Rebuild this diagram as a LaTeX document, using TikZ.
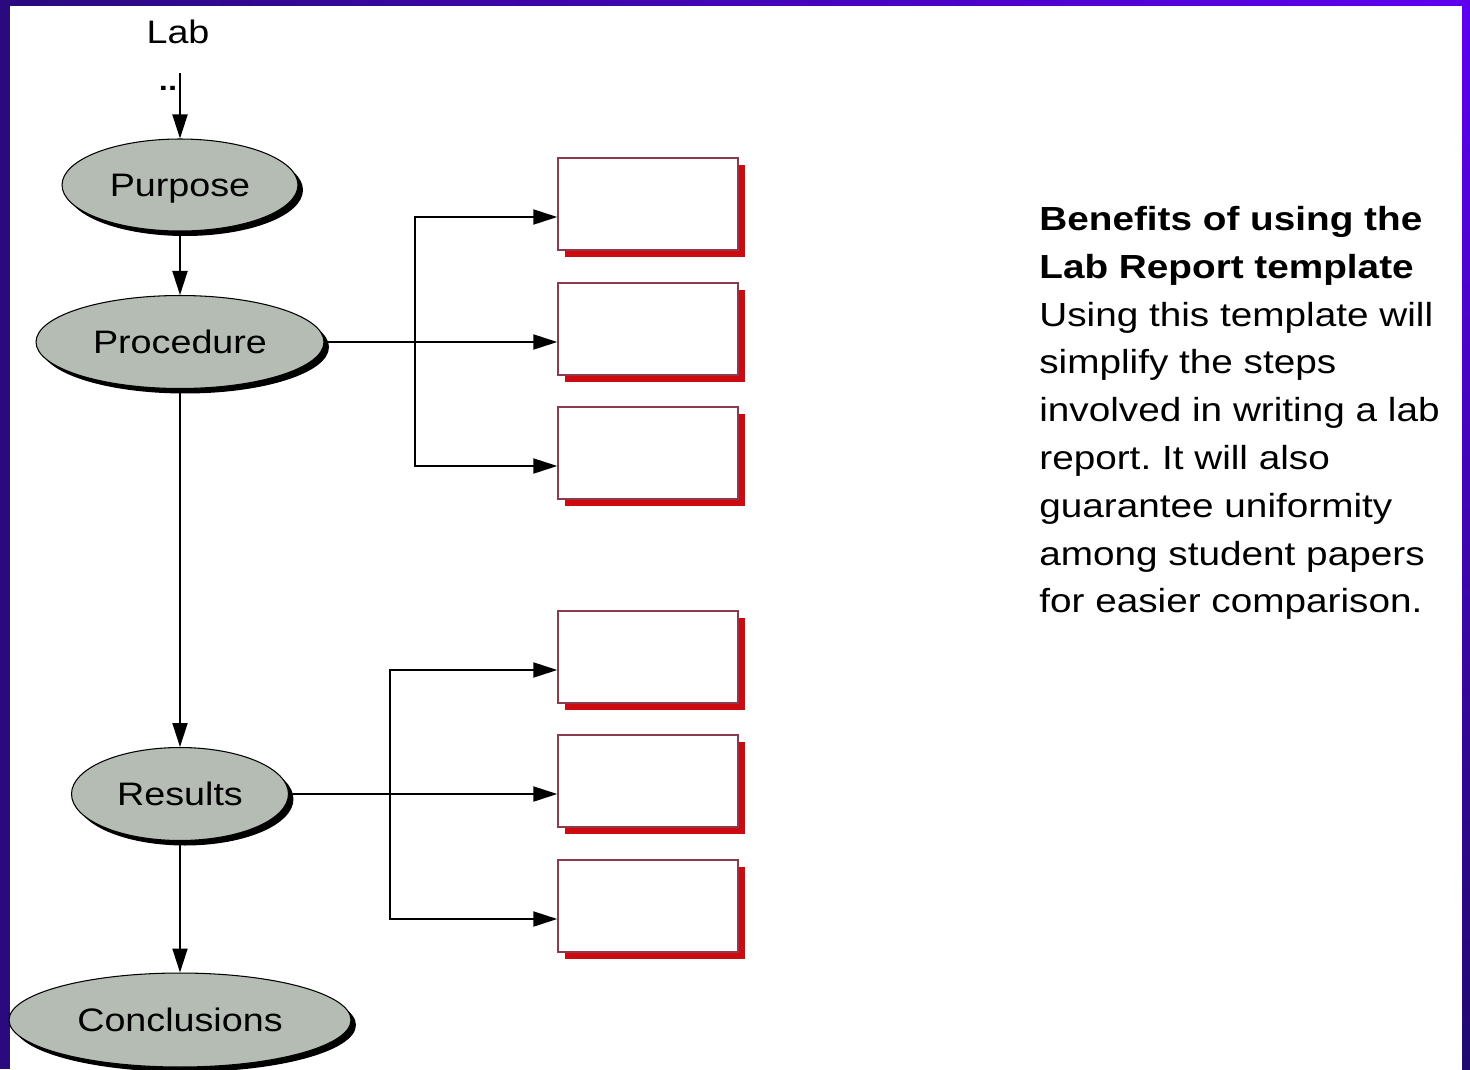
\documentclass[tikz,border=0pt]{standalone}
\usepackage{fontspec}
\setmainfont{Liberation Sans}[FakeStretch=1.16]
\usetikzlibrary{shapes.geometric,shadows,arrows.meta}
\definecolor{frameL}{HTML}{2A0A7E}
\definecolor{frameR}{HTML}{5E00F0}
\definecolor{frameB}{HTML}{200A6E}
\definecolor{stagegray}{HTML}{B4BCB4}
\definecolor{slotline}{HTML}{8C3A4C}
\definecolor{slotred}{HTML}{CC0A10}
\frenchspacing
\begin{document}
\begin{tikzpicture}[x=0.02cm,y=-0.02cm,
        stage/.style={ellipse,draw=black,line width=0.6pt,fill=stagegray,inner sep=0pt,
            text height=13.3pt,text depth=0pt,font=\fontsize{18.5}{22}\selectfont,
            drop shadow={fill=black,opacity=1,shadow xshift=0.1cm,shadow yshift=-0.1cm}},
        slot/.style={rectangle,draw=slotline,line width=0.8pt,fill=white,
            minimum width=3.6cm,minimum height=1.84cm,
            drop shadow={fill=slotred,opacity=1,shadow xshift=0.14cm,shadow yshift=-0.14cm}},
        link/.style={line width=1.1pt,-{Triangle[length=0.48cm,width=0.3cm]}}]
    \useasboundingbox (0,0) rectangle (1470,1069);
    \fill[white] (0,0) rectangle (1470,1069);
    \fill[frameL] (0,0) rectangle (10,1069);
    \shade[left color=frameL,right color=frameR] (0,0) rectangle (1470,5);
    \shade[top color=frameR,bottom color=frameB] (1462,0) rectangle (1470,1069);

    \node[anchor=base,font=\fontsize{18.5}{22}\selectfont] (lab) at (178,43) {Lab};
    \node[anchor=base,font=\fontsize{16}{16}\bfseries,inner sep=0pt] (dots) at (168,90) {..};
    \coordinate (labtail) at (180,73);

    \node[stage,minimum width=4.72cm,minimum height=1.84cm] (purp) at (180,185) {Purpose};
    \node[stage,minimum width=5.76cm,minimum height=1.86cm] (proc) at (180,342) {Procedure};
    \node[stage,minimum width=4.34cm,minimum height=1.86cm] (res) at (180,794) {Results};
    \node[stage,minimum width=6.84cm,minimum height=1.88cm] (conc) at (180,1020) {Conclusions};

    \node[slot] (b1) at (648,204) {};
    \node[slot] (b2) at (648,329) {};
    \node[slot] (b3) at (648,453) {};
    \node[slot] (b4) at (648,657) {};
    \node[slot] (b5) at (648,781) {};
    \node[slot] (b6) at (648,906) {};

    \coordinate (fa) at (415,342);
    \coordinate (fb) at (390,794);

    \draw[link] (labtail) -- (purp);
    \draw[link] (purp) -- (proc);
    \draw[link] (proc) -- (res);
    \draw[link] (res) -- (conc);

    \draw[link] (proc.east) -- (proc.east -| b2.west);
    \draw[link] (fa) |- ([yshift=-0.26cm]b1.west);
    \draw[link] (fa) |- ([yshift=-0.26cm]b3.west);
    \draw[link] (res.east) -- (res.east -| b5.west);
    \draw[link] (fb) |- ([yshift=-0.26cm]b4.west);
    \draw[link] (fb) |- ([yshift=-0.26cm]b6.west);

    \node[anchor=north west,align=left,inner sep=0pt,font=\fontsize{19}{27.2}\selectfont] (note) at (1039,206)
        {\textbf{Benefits of using the}\\
         \textbf{Lab Report template}\\
         Using this template will\\
         simplify the steps\\
         involved in writing a lab\\
         report. It will also\\
         guarantee uniformity\\
         among student papers\\
         for easier comparison.};
\end{tikzpicture}
\end{document}
